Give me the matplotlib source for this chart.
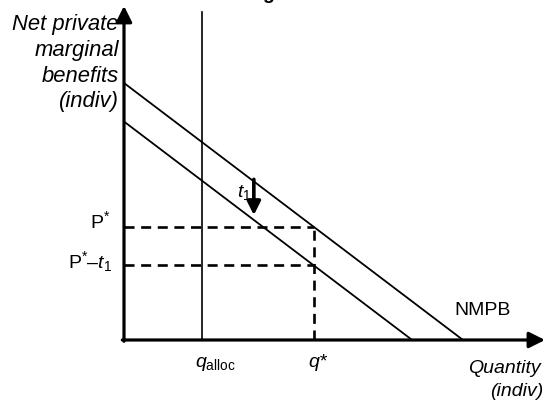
import matplotlib

matplotlib.use("Agg")
import matplotlib.pyplot as plt

plt.rcParams["font.family"] = ["Liberation Sans", "DejaVu Sans"]
plt.rcParams["mathtext.fontset"] = "custom"
plt.rcParams["mathtext.rm"] = "Liberation Sans"
plt.rcParams["mathtext.it"] = "Liberation Sans:italic"

# schematic values (quantity, price units)
nmpb_intercept = 10.0      # NMPB hits both axes at 10
slope = -1.0
tax_t1 = 1.5               # downward shift of NMPB
q_alloc = 2.3
q_star = 5.6
p_star = nmpb_intercept + slope * q_star
p_star_minus_t = p_star - tax_t1
q_axis_max = 12.42
p_axis_max = 13.0
q_alloc_top = 12.76

ylabel_lines = ["Net private", "marginal", "benefits", "(indiv)"]
ylabel_base = [12.06, 11.05, 10.04, 9.07]

fig = plt.figure(figsize=(5.47, 4.01), dpi=100)
ax = fig.add_axes([0, 0, 1, 1])
ax.set_xlim(-3.658, 12.478)
ax.set_ylim(-2.374, 13.23)
ax.axis("off")

# axes with arrow heads
arrow_kw = dict(arrowstyle="-|>", lw=2.3, color="black", mutation_scale=24,
                shrinkA=0, shrinkB=0)
ax.annotate("", xy=(0, p_axis_max), xytext=(0, -0.05), arrowprops=arrow_kw)
ax.annotate("", xy=(q_axis_max, 0), xytext=(-0.05, 0), arrowprops=arrow_kw)

# NMPB and the shifted curve
ax.plot([0, -nmpb_intercept / slope], [nmpb_intercept, 0], color="black", lw=1.3)
shifted = nmpb_intercept - tax_t1
ax.plot([0, -shifted / slope], [shifted, 0], color="black", lw=1.3)

# allocated quantity
ax.plot([q_alloc, q_alloc], [0, q_alloc_top], color="black", lw=1.2)

# dashed guides
dash_kw = dict(color="black", lw=1.9, linestyle=(0, (3.8, 2.5)))
ax.plot([0, q_star], [p_star, p_star], **dash_kw)
ax.plot([0, q_star], [p_star_minus_t, p_star_minus_t], **dash_kw)
ax.plot([q_star, q_star], [0, p_star], **dash_kw)

# t1 shift arrow
ax.annotate("", xy=(3.83, 4.86), xytext=(3.83, 6.25),
            arrowprops=dict(arrowstyle="-|>", lw=2.6, color="black",
                            mutation_scale=20, shrinkA=0, shrinkB=0))
ax.text(3.33, 5.56, "$t_1$", ha="left", va="baseline", fontsize=14)

fs = 14
for line, base in zip(ylabel_lines, ylabel_base):
    ax.text(-0.15, base, line, ha="right", va="baseline", fontsize=15.8, style="italic")

ax.text(12.30, -1.28, "Quantity", ha="right", va="baseline", fontsize=fs, style="italic")
ax.text(12.36, -2.16, "(indiv)", ha="right", va="baseline", fontsize=fs, style="italic")

ax.text(-0.41, p_star - 0.04, "P$^{*}$", ha="right", va="baseline", fontsize=fs)
ax.text(-0.35, p_star_minus_t - 0.1, "P$^{*}$–$t_1$", ha="right", va="baseline", fontsize=fs)

ax.text(2.09, -1.05, r"$q_{\mathrm{alloc}}$", ha="left", va="baseline", fontsize=fs)
ax.text(5.43, -1.05, "$q$*", ha="left", va="baseline", fontsize=fs, style="italic")

ax.text(10.59, 1.13, "NMPB", ha="center", va="center", fontsize=fs)

# cropped title remnant at the very top
fig.text(0.49, 1.0 + 1.0 / 401, "g", ha="center", va="baseline", fontsize=14, fontweight="bold")

fig.savefig("out.png", dpi=100, facecolor="white")
